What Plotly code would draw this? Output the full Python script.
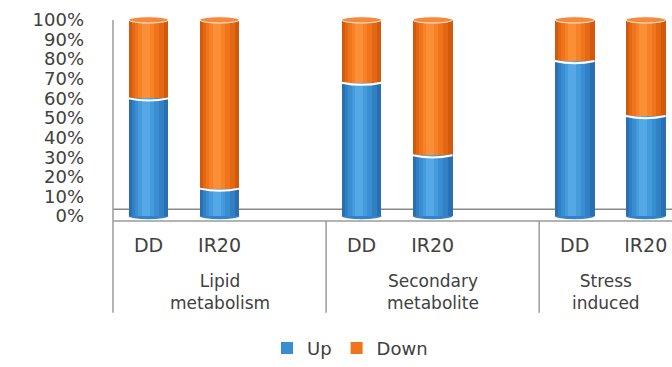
import plotly.graph_objects as go

# ---- data -------------------------------------------------------------
group_lines = [["Lipid", "metabolism"], ["Secondary", "metabolite"], ["Stress", "induced"]]
samples = ["DD", "IR20"]
up = [60, 14, 68, 31, 79, 51]       # % of genes up-regulated
down = [40, 86, 32, 69, 21, 49]     # % of genes down-regulated
y_ticks = [0, 10, 20, 30, 40, 50, 60, 70, 80, 90, 100]

# ---- layout constants ---------------------------------------------------
W, H = 672, 367
ML, MR, MT, MB = 113, 0, 14, 142
GROUP_STEP = 3                      # two bars + one empty slot per group
X_RANGE = [-0.5, 7.37]
Y_RANGE = [-3, 103]
BAR_W = 0.56
CAP = 1.6                           # half height of the cylinder ends (data units)
FONT = "DejaVu Sans"
TXT = "#404040"
AXIS_GRAY = "#9a9a9a"

xpos = [g * GROUP_STEP + s for g in range(len(group_lines)) for s in range(len(samples))]
xlabels = samples * len(group_lines)
base_down = up[:]


def px_to_paper_y(p):
    return (H - MB - p) / (H - MB - MT)


def px_to_paper_x(p):
    return (p - ML) / (W - ML - MR)


def data_to_paper_x(x):
    return (x - X_RANGE[0]) / (X_RANGE[1] - X_RANGE[0])


# cylinder shading: nested strips from the dark rim to the bright centre
strip_frac = [1.0, 0.8, 0.6, 0.4, 0.2]
strip_shift = [0.0, -0.01, -0.02, -0.03, -0.04]
blue_shades = ["#2a6fb2", "#3180c5", "#398ed2", "#449bdc", "#53a8e5"]
orange_shades = ["#d3590c", "#e46713", "#ef741b", "#f68126", "#fa8f36"]

fig = go.Figure()
for name, vals, base, shades in [("Up", up, [0] * len(up), blue_shades),
                                 ("Down", down, base_down, orange_shades)]:
    for k, (frac, shift, col) in enumerate(zip(strip_frac, strip_shift, shades)):
        w = BAR_W * frac
        fig.add_trace(go.Bar(
            x=xpos, y=vals, base=base, width=w, offset=-w / 2 + shift,
            marker=dict(color=col, line=dict(width=0)),
            name=name, legendgroup=name, showlegend=(k == 2),
            hoverinfo="skip",
        ))

shapes = []
# floor line behind the cylinders
shapes.append(dict(type="line", xref="paper", yref="paper", x0=0, x1=1,
                   y0=px_to_paper_y(212), y1=px_to_paper_y(212),
                   line=dict(color="#8a8a8a", width=1.5), layer="below"))
# category box: top edge, left axis and group separators
shapes.append(dict(type="line", xref="paper", yref="paper", x0=0, x1=1,
                   y0=px_to_paper_y(224), y1=px_to_paper_y(224),
                   line=dict(color=AXIS_GRAY, width=1.5)))
shapes.append(dict(type="line", xref="paper", yref="paper", x0=0, x1=0,
                   y0=px_to_paper_y(20), y1=px_to_paper_y(317),
                   line=dict(color=AXIS_GRAY, width=1.5)))
for g in range(1, len(group_lines)):
    xs = data_to_paper_x(g * GROUP_STEP - 0.5)
    shapes.append(dict(type="line", xref="paper", yref="paper", x0=xs, x1=xs,
                       y0=px_to_paper_y(224), y1=px_to_paper_y(317),
                       line=dict(color=AXIS_GRAY, width=1.5)))

for x, u in zip(xpos, up):
    x0, x1 = x - BAR_W / 2, x + BAR_W / 2
    # rounded bottom
    shapes.append(dict(type="circle", xref="x", yref="y", x0=x0, x1=x1,
                       y0=-CAP, y1=CAP, fillcolor="#3283c8",
                       line=dict(width=0), layer="below"))
    # white seam between Up and Down
    shapes.append(dict(type="path", xref="x", yref="y",
                       path=f"M {x0},{u} Q {x},{u - 2.2} {x1},{u}",
                       line=dict(color="white", width=2)))
    # top cap of the cylinder
    shapes.append(dict(type="circle", xref="x", yref="y", x0=x0, x1=x1,
                       y0=100 - CAP, y1=100 + CAP, fillcolor="#f58a3e",
                       line=dict(color="rgba(255,255,255,0.85)", width=1)))

annotations = []
for g, lines in enumerate(group_lines):
    start = g * GROUP_STEP - 0.5
    end = min(start + GROUP_STEP, X_RANGE[1])
    xc = (start + end) / 2
    annotations.append(dict(text="<br>".join(lines), x=xc, xref="x", xanchor="center",
                            y=px_to_paper_y(296), yref="paper", yanchor="middle",
                            showarrow=False, align="center",
                            font=dict(family=FONT, size=17, color=TXT)))

fig.update_layout(
    width=W, height=H,
    margin=dict(l=ML, r=MR, t=MT, b=MB),
    barmode="overlay",
    bargap=0,
    paper_bgcolor="white", plot_bgcolor="white",
    shapes=shapes, annotations=annotations,
    showlegend=True,
    legend=dict(orientation="h", x=px_to_paper_x(350),
                xanchor="center", y=px_to_paper_y(353), yanchor="middle",
                font=dict(family=FONT, size=18, color=TXT),
                itemwidth=30, traceorder="normal"),
    xaxis=dict(range=X_RANGE, tickmode="array", tickvals=xpos, ticktext=xlabels,
               showgrid=False, zeroline=False, showline=False, ticks="",
               ticklabelstandoff=10,
               tickfont=dict(family=FONT, size=19, color=TXT)),
    yaxis=dict(range=Y_RANGE, tickmode="array", tickvals=y_ticks,
               ticktext=[f"{v}%" for v in y_ticks],
               showgrid=False, zeroline=False, showline=False, ticks="",
               ticklabelstandoff=28,
               tickfont=dict(family=FONT, size=18, color=TXT)),
)

fig.write_html("out.html")
